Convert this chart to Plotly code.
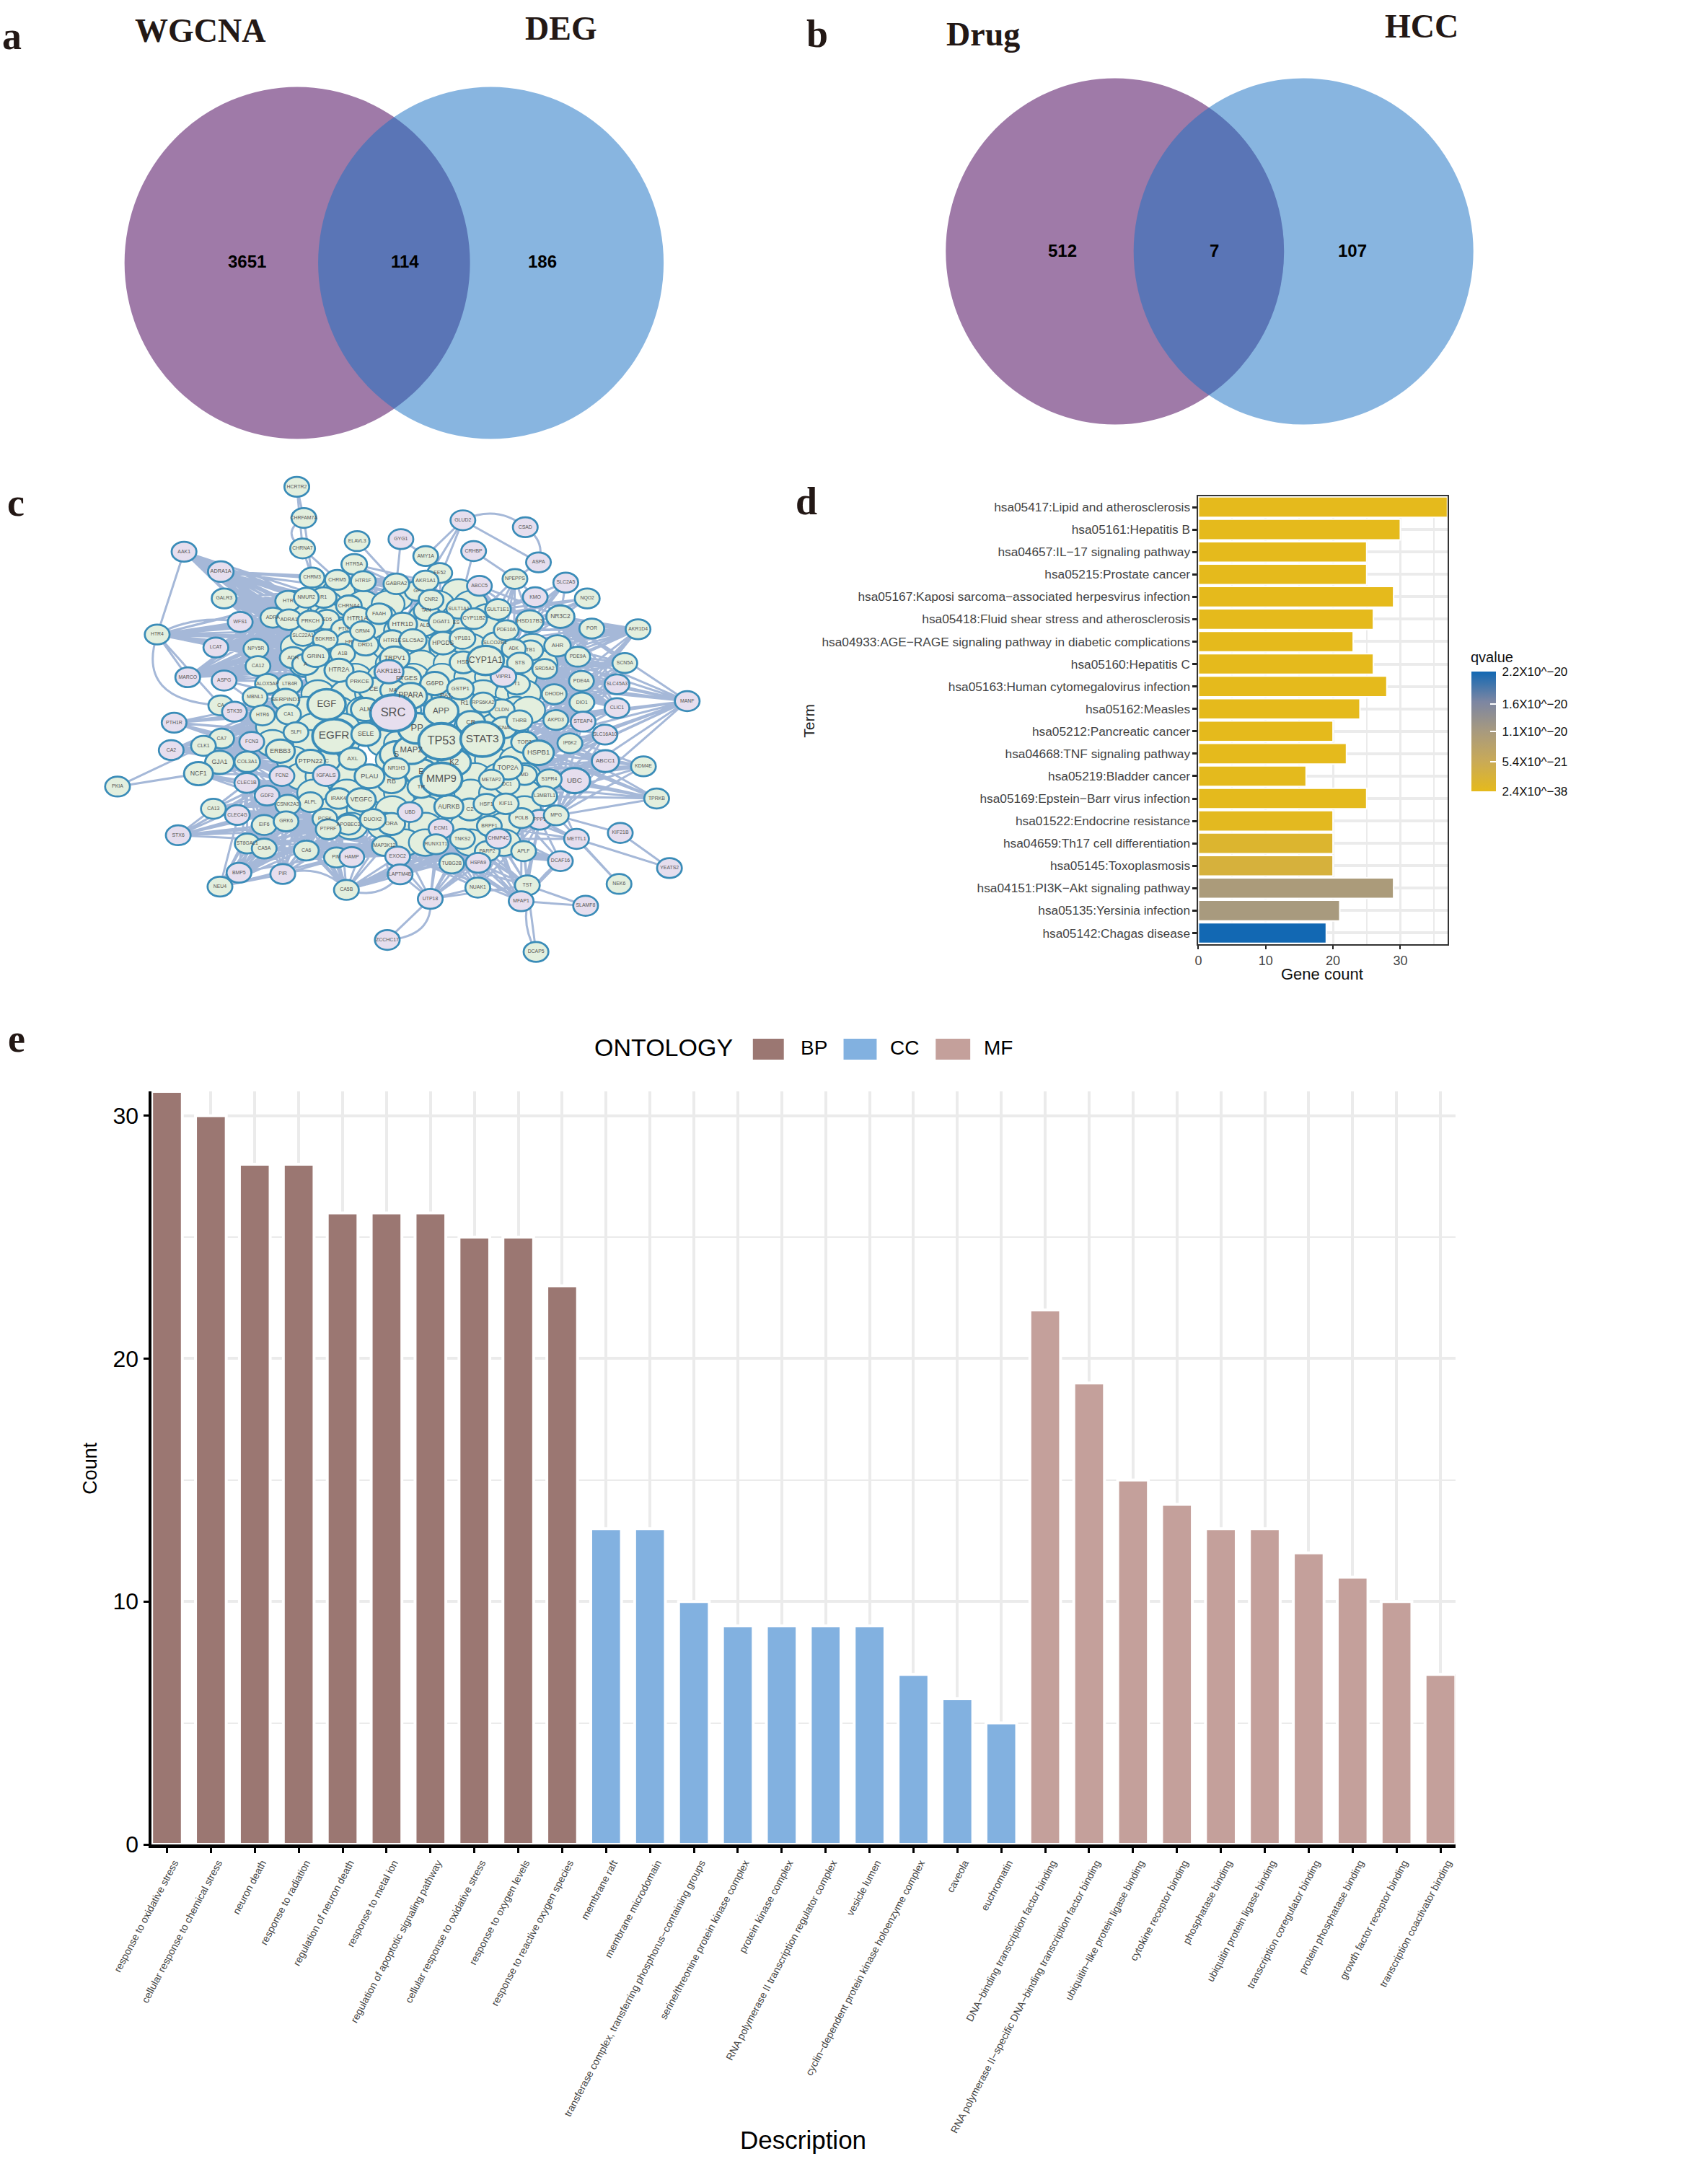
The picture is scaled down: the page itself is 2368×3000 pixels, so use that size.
import plotly.graph_objects as go

W = 2368
H = 3000

# venn panels
venn_a_sets = ["WGCNA", "DEG"]
venn_a_counts = [3651, 114, 186]
venn_b_sets = ["Drug", "HCC"]
venn_b_counts = [512, 7, 107]

# panel d, KEGG terms top to bottom
kegg_terms = [
    "hsa05417:Lipid and atherosclerosis", "hsa05161:Hepatitis B",
    "hsa04657:IL−17 signaling pathway", "hsa05215:Prostate cancer",
    "hsa05167:Kaposi sarcoma−associated herpesvirus infection",
    "hsa05418:Fluid shear stress and atherosclerosis",
    "hsa04933:AGE−RAGE signaling pathway in diabetic complications",
    "hsa05160:Hepatitis C", "hsa05163:Human cytomegalovirus infection",
    "hsa05162:Measles", "hsa05212:Pancreatic cancer",
    "hsa04668:TNF signaling pathway", "hsa05219:Bladder cancer",
    "hsa05169:Epstein−Barr virus infection", "hsa01522:Endocrine resistance",
    "hsa04659:Th17 cell differentiation", "hsa05145:Toxoplasmosis",
    "hsa04151:PI3K−Akt signaling pathway", "hsa05135:Yersinia infection",
    "hsa05142:Chagas disease",
]
kegg_counts = [37, 30, 25, 25, 29, 26, 23, 26, 28, 24, 20, 22, 16, 25, 20, 20, 20, 29, 21, 19]
kegg_qvalues = [2.4e-38, 1e-30, 1e-28, 1e-28, 1e-27, 1e-26, 1e-25, 1e-25, 1e-24, 1e-24,
                1e-23, 1e-23, 1e-22, 1e-22, 4e-22, 1.8e-21, 3e-21, 1.05e-20, 1.1e-20, 2.2e-20]
q_tick_values = [2.4e-38, 5.4e-21, 1.1e-20, 1.6e-20, 2.2e-20]
q_tick_labels = ["2.4X10^−38", "5.4X10^−21", "1.1X10^−20", "1.6X10^−20", "2.2X10^−20"]

# panel e, GO terms
bp_terms = ["response to oxidative stress", "cellular response to chemical stress", "neuron death",
            "response to radiation", "regulation of neuron death", "response to metal ion",
            "regulation of apoptotic signaling pathway", "cellular response to oxidative stress",
            "response to oxygen levels", "response to reactive oxygen species"]
bp_counts = [31, 30, 28, 28, 26, 26, 26, 25, 25, 23]
cc_terms = ["membrane raft", "membrane microdomain",
            "transferase complex, transferring phosphorus−containing groups",
            "serine/threonine protein kinase complex", "protein kinase complex",
            "RNA polymerase II transcription regulator complex", "vesicle lumen",
            "cyclin−dependent protein kinase holoenzyme complex", "caveola", "euchromatin"]
cc_counts = [13, 13, 10, 9, 9, 9, 9, 7, 6, 5]
mf_terms = ["DNA−binding transcription factor binding",
            "RNA polymerase II−specific DNA−binding transcription factor binding",
            "ubiquitin−like protein ligase binding", "cytokine receptor binding", "phosphatase binding",
            "ubiquitin protein ligase binding", "transcription coregulator binding",
            "protein phosphatase binding", "growth factor receptor binding",
            "transcription coactivator binding"]
mf_counts = [22, 19, 15, 14, 13, 13, 12, 11, 10, 7]

# panel c, network. units are those of the zoomed crop (0-1568 both ways)
filler_x = [600, 640, 780, 930, 530, 610, 700, 760, 880, 960, 620, 740, 850, 930, 1000, 640, 720, 790, 860, 1000,
            540, 620, 690, 760, 830, 900, 960, 1110, 560, 620, 700, 770, 840, 910, 980, 1050, 1130,
            600, 680, 750, 820, 890, 960, 1010, 1080, 590, 660, 720, 780, 860, 930, 990, 1060, 1090,
            560, 640, 700, 800, 950, 1010, 1070, 1100, 480, 580, 650, 760, 840, 960, 1020, 1060,
            480, 570, 650, 750, 790, 1010, 1060, 530, 620, 770, 840, 950, 1010, 1070,
            550, 600, 650, 780, 840, 970, 1030, 1090, 580, 660, 740, 790, 860, 960, 1020, 1090,
            630, 700, 770, 850, 1000, 1090, 670, 750, 800, 850, 950, 1040, 800, 850, 960, 1040]
filler_y = [395, 395, 410, 395, 430, 430, 430, 430, 430, 430, 470, 470, 470, 470, 470, 510, 510, 510, 510, 510,
            560, 560, 560, 560, 560, 560, 560, 560, 610, 610, 610, 610, 610, 610, 610, 610, 610,
            650, 650, 650, 650, 650, 650, 650, 650, 700, 700, 700, 700, 700, 700, 700, 700, 700,
            750, 750, 750, 750, 750, 750, 750, 750, 800, 800, 800, 800, 800, 800, 800, 800,
            850, 850, 850, 850, 850, 850, 850, 900, 900, 900, 900, 900, 900, 900,
            950, 950, 950, 950, 950, 950, 950, 950, 1000, 1000, 1000, 1000, 1000, 1000, 1000, 1000,
            1050, 1050, 1050, 1050, 1050, 1050, 1100, 1100, 1100, 1100, 1100, 1100, 1150, 1150, 1150, 1150]

node_names = [
    "HTR", "R1", "SD5", "PTG", "HR", "ADR", "A", "A1B",
    "ALD", "TAN", "ES", "GP", "HSD", "TB1", "CE", "PTGES",
    "PA1", "R1", "CLDN", "CR", "T1", "MA", "K2", "E",
    "S", "MAP2", "PP", "RB", "TR", "MD", "DC1", "C2",
    "ORA", "PCSK", "APOBEC3", "EE52", "CNA", "PIM", "PPP1", "C",
    "HCRTR2", "CHRFAM7A", "CHRNA7", "ELAVL3", "GYG1", "GLUD2", "CSAD", "CRHBP",
    "AMY1A", "ASPA", "AAK1", "ADRA1A", "GALR3", "HTR5A", "CHRM3", "CHRM5",
    "HTR1F", "GABRA2", "AKR1A1", "ABCC5", "NPEPPS", "SLC2A5", "KMO", "NQO2",
    "CHRNA4", "HTR1A", "FAAH", "SLC22A1", "BDKRB1", "HTR1D", "CNR2", "DRD1",
    "ADRA", "ADRA1", "NMUR2", "PRKCH", "GRM4", "SULT1A1", "SULT1E1", "NR3C2",
    "HSD17B3", "CYP11B2", "DGAT1", "WFS1", "HTR4", "HTR1E", "SLC5A2", "HPGDS",
    "YP1B1", "SLCO2B1", "PDE10A", "POR", "AKR1D4", "LCAT", "NPY5R", "ADK",
    "AHR", "CA12", "GRIN1", "TRPV1", "STS", "SRD5A2", "PDE9A", "SCN5A",
    "MARCO", "ASPG", "HTR2A", "ALOX5AP", "LTB4R", "PRKCE", "G6PD", "GSTP1",
    "VIPR1", "PDE4A", "SLC45A3", "MBNL1", "PPARA", "RPS6KA2", "SERPIND1", "DHODH",
    "DIO1", "MANF", "CLIC1", "CA", "STK39", "HTR6", "CA1", "ALK",
    "THRB", "AKPD3", "STEAP4", "PTH1R", "SLPI", "SLC16A10", "CA7", "FCN3",
    "IP6K2", "TOP2", "CLK1", "CA2", "ERBB3", "HSPB1", "ABCC1", "GJA1",
    "COL3A1", "PTPN22", "KDM4E", "NCF1", "NR1H3", "TOP2A", "IGFALS", "FCN2",
    "CLEC1B", "UBC", "METAP2", "S1PR4", "TPRKB", "PKIA", "GDF2", "L3MBTL1",
    "IRAK4", "ALPL", "CSNK2A3", "CA13", "CLEC4G", "POLB", "MPG", "KIF21B",
    "DUOX2", "UBD", "EIF6", "GRK6", "PTPRF", "ECM1", "BRPF1", "STX6",
    "METTL1", "TNKS2", "ST8GAL1", "CA5A", "CA6", "MAP3K12", "HAMP", "EXOC2",
    "PARP2", "APLF", "DCAF16", "TUBG2B", "HSPA9", "YEATS2", "BMP5", "PIR",
    "LAPTM4B", "NEK6", "NEU4", "CA5B", "NUAK1", "TST", "UTP18", "MFAP1",
    "SLAMF8", "ZCCHC17", "DCAP5", "RUNX1T1", "CHMP4C", "HSF1", "KIF11", "AURKB",
    "EGF", "EGFR", "APP", "CYP1A1", "SRC", "MMP9", "TP53", "STAT3",
    "SELE", "AXL", "PLAU", "VEGFC", "AKR1B1",
]
node_x = [
    518, 604, 612, 652, 665, 530, 560, 650,
    849, 852, 925, 830, 942, 1105, 725, 805,
    900, 945, 1035, 960, 1072, 772, 920, 840,
    780, 816, 830, 768, 840, 1090, 1048, 958,
    768, 607, 664, 885, 1040, 635, 1127, 612,
    539, 556, 553, 685, 791, 941, 1092, 967,
    851, 1124, 266, 355, 363, 678, 576, 637,
    700, 780, 851, 981, 1067, 1190, 1116, 1242,
    665, 686, 738, 554, 608, 795, 864, 705,
    481, 520, 562, 572, 698, 931, 1026, 1177,
    1103, 968, 889, 402, 201, 770, 820, 893,
    940, 1019, 1046, 1253, 1365, 343, 440, 1064,
    1170, 445, 585, 776, 1079, 1139, 1219, 1333,
    275, 363, 641, 468, 522, 691, 873, 935,
    1039, 1228, 1314, 438, 815, 990, 512, 1162,
    1229, 1484, 1314, 355, 388, 456, 519, 705,
    1078, 1166, 1232, 242, 537, 1285, 357, 430,
    1200, 1090, 313, 235, 499, 1124, 1286, 352,
    419, 572, 1378, 301, 780, 1050, 610, 503,
    418, 1211, 1010, 1150, 1410, 105, 467, 1139,
    640, 572, 517, 337, 395, 1083, 1167, 1322,
    723, 813, 460, 513, 615, 888, 1005, 252,
    1216, 940, 419, 460, 562, 751, 672, 783,
    1000, 1088, 1177, 914, 978, 1441, 399, 505,
    789, 1319, 353, 659, 977, 1097, 862, 1082,
    1238, 758, 1118, 876, 1027, 998, 1045, 907,
    611, 629, 888, 996, 772, 889, 889, 988,
    706, 674, 715, 695, 762,
]
node_y = [
    421, 410, 477, 506, 544, 592, 612, 580,
    495, 450, 486, 390, 606, 570, 688, 655,
    707, 730, 749, 788, 672, 690, 908, 938,
    884, 871, 805, 966, 982, 946, 975, 1050,
    1094, 1078, 1096, 336, 803, 1195, 1081, 903,
    76, 170, 262, 240, 234, 177, 198, 270,
    285, 304, 272, 332, 413, 310, 350, 357,
    361, 369, 360, 375, 354, 365, 409, 413,
    435, 474, 459, 526, 537, 491, 417, 553,
    471, 477, 411, 481, 512, 444, 446, 468,
    482, 474, 484, 484, 522, 541, 539, 548,
    534, 547, 509, 504, 506, 561, 565, 565,
    556, 617, 587, 594, 608, 626, 589, 608,
    651, 661, 630, 671, 672, 665, 670, 686,
    649, 662, 672, 711, 707, 727, 719, 702,
    727, 723, 744, 736, 755, 766, 763, 748,
    782, 780, 785, 788, 817, 824, 836, 846,
    850, 847, 858, 871, 874, 879, 904, 908,
    906, 905, 920, 942, 926, 925, 947, 949,
    970, 963, 960, 959, 1017, 981, 1008, 1010,
    1017, 1028, 1036, 1048, 1067, 1076, 1068, 1121,
    1080, 1058, 1097, 1086, 1110, 1108, 1100, 1128,
    1139, 1139, 1153, 1168, 1174, 1160, 1194, 1192,
    1176, 1176, 1206, 1213, 1211, 1227, 1241, 1245,
    1246, 1275, 1283, 1293, 1286, 1279, 1320, 1327,
    1341, 1444, 1480, 1155, 1138, 1034, 1033, 1042,
    733, 829, 753, 600, 759, 959, 845, 838,
    823, 897, 950, 1021, 634,
]
node_size = [
    62, 62, 60, 60, 62, 64, 64, 60,
    62, 60, 60, 60, 66, 60, 72, 70,
    70, 70, 62, 70, 62, 62, 80, 80,
    80, 84, 92, 70, 66, 60, 60, 66,
    66, 60, 60, 60, 64, 60, 60, 64,
    60, 60, 60, 60, 60, 60, 60, 60,
    60, 60, 60, 62, 60, 62, 60, 60,
    60, 62, 62, 60, 60, 60, 60, 60,
    62, 70, 62, 60, 60, 70, 60, 64,
    60, 62, 60, 62, 60, 60, 62, 68,
    66, 62, 62, 60, 60, 64, 66, 68,
    62, 62, 60, 60, 60, 60, 60, 58,
    64, 60, 66, 72, 62, 60, 60, 60,
    60, 60, 70, 60, 60, 64, 70, 64,
    62, 60, 60, 60, 78, 60, 66, 60,
    60, 60, 60, 60, 60, 60, 60, 70,
    62, 60, 60, 60, 60, 60, 60, 60,
    60, 64, 60, 60, 70, 74, 66, 70,
    62, 70, 60, 70, 62, 70, 64, 60,
    60, 76, 60, 60, 60, 60, 60, 60,
    62, 60, 60, 60, 60, 60, 60, 60,
    62, 60, 60, 60, 60, 60, 60, 60,
    60, 60, 60, 60, 60, 60, 60, 60,
    60, 60, 60, 60, 60, 60, 60, 60,
    60, 60, 60, 60, 60, 60, 60, 60,
    60, 60, 60, 60, 60, 62, 62, 70,
    92, 104, 84, 88, 110, 100, 110, 105,
    70, 66, 72, 70, 70,
]
purple_nodes = ["GYG1", "GLUD2", "CSAD", "CRHBP", "ASPA", "AAK1", "ADRA1A", "ABCC5", "SLC2A5", "KMO", "WFS1",
                "LCAT", "MARCO", "ASPG", "AKR1B1", "VIPR1", "SLC45A3", "MANF", "CLIC1", "STK39", "STEAP4",
                "PTH1R", "SLC16A10", "FCN3", "CA2", "ABCC1", "IGFALS", "FCN2", "CLEC1B", "UBC", "GDF2",
                "CLEC4G", "KIF21B", "UBD", "ECM1", "STX6", "METTL1", "HAMP", "EXOC2", "DCAF16", "HSPA9",
                "YEATS2", "BMP5", "PIR", "LAPTM4B", "UTP18", "MFAP1", "SLAMF8", "ZCCHC17", "CHMP4C",
                "PPP1", "SRC"]

# bundles of edges, every node on the left joined to every node on the right
edge_fans = [
    (["AAK1", "ADRA1A", "GALR3", "WFS1", "LCAT", "NPY5R", "CA12", "ASPG", "MARCO", "HTR4"],
     ["HTR", "NMUR2", "ADRA", "ADRA1", "SLC22A1", "BDKRB1", "GRIN1", "ADR", "HTR2A", "PRKCH", "CHRNA4",
      "SD5", "PTG", "HR", "A", "A1B", "HTR1A"]),
    (["ADRA1A", "GALR3", "CHRM3", "CHRM5", "HTR5A", "HTR1F"],
     ["HTR1A", "GABRA2", "CHRNA4", "FAAH", "HTR1D", "CNR2", "AKR1A1", "NMUR2", "R1"]),
    (["PTH1R", "CA2", "CLK1", "GJA1", "NCF1", "COL3A1", "CA7", "FCN3", "STK39", "HTR6", "CA"],
     ["ERBB3", "EGFR", "PTPN22", "SLPI", "CA1", "HTR6", "EGF", "SERPIND1", "C", "IGFALS"]),
    (["ALOX5AP", "LTB4R", "MBNL1", "SERPIND1", "NPY5R", "CA12", "ASPG"],
     ["EGF", "HTR2A", "GRIN1", "PRKCE", "ADR", "A", "SLPI"]),
    (["STX6", "CA13", "CLEC4G", "ST8GAL1", "BMP5", "PIR", "NEU4", "CA5A", "CA6", "CA5B", "EIF6", "GRK6"],
     ["ALPL", "IRAK4", "PTPRF", "CSNK2A3", "FCN2", "GDF2", "CLEC1B", "PTPN22", "MAP3K12", "DUOX2", "PCSK"]),
    (["CLEC1B", "GDF2", "FCN2", "COL3A1", "GJA1", "NCF1"],
     ["IRAK4", "VEGFC", "PLAU", "ALPL", "CSNK2A3", "IGFALS"]),
    (["UTP18", "NUAK1", "TST", "MFAP1", "DCAF16", "APLF", "LAPTM4B", "HSPA9", "TUBG2B", "CA5B", "HAMP", "EXOC2"],
     ["TNKS2", "PARP2", "RUNX1T1", "BRPF1", "POLB", "CHMP4C", "ECM1", "MAP3K12", "ORA", "PPP1"]),
    (["MANF", "AKR1D4", "SCN5A", "SLC45A3", "CLIC1", "STEAP4", "DIO1", "PDE4A", "PDE9A", "POR", "DHODH"],
     ["CYP1A1", "STS", "SRD5A2", "AHR", "THRB", "TOP2", "HSPB1", "NR3C2", "VIPR1", "T1", "AKPD3", "TB1"]),
    (["ABCC1", "SLC16A10", "IP6K2", "KDM4E", "TPRKB", "UBC", "S1PR4", "MANF", "STEAP4"],
     ["HSPB1", "TOP2A", "THRB", "L3MBTL1", "MPG", "MD", "DC1", "TOP2"]),
    (["SLC2A5", "KMO", "NQO2", "NPEPPS", "ABCC5", "AKR1D4", "POR"],
     ["SULT1E1", "HSD17B3", "PDE10A", "NR3C2", "CYP11B2", "SLCO2B1", "ADK"]),
    (["MAP3K12", "DUOX2", "HAMP", "EXOC2", "PIM", "CA6"],
     ["CA5A", "PTPRF", "RUNX1T1", "AURKB", "ORA", "PCSK"]),
    (["GABRA2", "AKR1A1", "ABCC5", "CNR2", "EE52"],
     ["SULT1A1", "HTR1D", "FAAH", "DGAT1", "CYP11B2", "TAN"]),
    (["POLB", "MPG", "L3MBTL1", "PPP1", "METTL1"],
     ["KIF11", "HSF1", "BRPF1", "TNKS2", "S1PR4"]),
]
straight_edges = [
    ("PKIA", "NCF1"), ("PKIA", "CLK1"), ("ZCCHC17", "UTP18"), ("DCAP5", "TST"), ("YEATS2", "KIF21B"),
    ("YEATS2", "METTL1"), ("NEK6", "METTL1"), ("NEK6", "MPG"), ("SLAMF8", "MFAP1"), ("SLAMF8", "TST"),
    ("GLUD2", "ASPA"), ("GLUD2", "AMY1A"), ("GLUD2", "CNR2"), ("GLUD2", "AKR1A1"), ("GYG1", "AMY1A"),
    ("GYG1", "GABRA2"), ("ELAVL3", "GABRA2"), ("CRHBP", "SULT1A1"), ("CRHBP", "NPEPPS"), ("ASPA", "NPEPPS"),
    ("HCRTR2", "CHRFAM7A"), ("HCRTR2", "CHRNA7"), ("CHRFAM7A", "CHRM3"), ("CHRNA7", "CHRM5"), ("CHRNA7", "CHRM3"),
    ("HTR4", "WFS1"), ("HTR4", "AAK1"), ("HTR4", "MARCO"), ("HTR4", "CA"), ("NEU4", "BMP5"), ("NEU4", "PIR"),
    ("KIF21B", "MPG"), ("METTL1", "PPP1"), ("DCAF16", "MFAP1"), ("KDM4E", "ABCC1"), ("TPRKB", "UBC"),
    ("UTP18", "LAPTM4B"), ("UTP18", "TUBG2B"), ("UTP18", "NUAK1"), ("UTP18", "TST"), ("TST", "APLF"),
]
curved_edges = [
    ("GLUD2", "CSAD", -30), ("CSAD", "ASPA", -18), ("ZCCHC17", "UTP18", 40), ("DCAP5", "DCAF16", -50),
    ("HTR4", "WFS1", -22), ("ADRA1A", "HTR", -30), ("CA5B", "PIR", 30), ("CA5B", "LAPTM4B", 30),
    ("CHRFAM7A", "CHRNA7", 28), ("HTR4", "CA", 80), ("LAPTM4B", "EXOC2", -28), ("AKR1D4", "NR3C2", -24),
]

fig = go.Figure()


def px_x(x):
    return x / W


def px_y(y):
    return 1 - y / H


def note(text, x, y, size, family="Liberation Sans", color="#000000", angle=0, anchor="center"):
    fig.add_annotation(text=text, x=px_x(x), y=px_y(y), xref="paper", yref="paper", showarrow=False,
                       textangle=angle, xanchor=anchor, yanchor="middle",
                       font=dict(family=family, size=size, color=color))


def ellipse(cx, cy, rx, ry, fill, opacity=1):
    fig.add_shape(type="circle", xref="paper", yref="paper", x0=px_x(cx - rx), x1=px_x(cx + rx),
                  y0=px_y(cy + ry), y1=px_y(cy - ry), fillcolor=fill, opacity=opacity,
                  line=dict(width=0), layer="below")


SERIF = "Liberation Serif"
VENN_LEFT = "#9F7AA8"
VENN_RIGHT = "rgb(26,113,195)"

# a and b
ellipse(408, 364.5, 240, 244, VENN_LEFT)
ellipse(677, 364.5, 240, 244, VENN_RIGHT, 0.52)
ellipse(1544, 348.5, 235, 240, VENN_LEFT)
ellipse(1806, 348.5, 236, 240, VENN_RIGHT, 0.52)
for count, x in zip(venn_a_counts, [338, 558, 749]):
    note("<b>%d</b>" % count, x, 362, 24)
for count, x in zip(venn_b_counts, [1471, 1682, 1874]):
    note("<b>%d</b>" % count, x, 347, 24)
note("<b>%s</b>" % venn_a_sets[0], 273, 43, 46, SERIF, "#231815")
note("<b>%s</b>" % venn_a_sets[1], 775, 39, 46, SERIF, "#231815")
note("<b>%s</b>" % venn_b_sets[0], 1361, 47, 46, SERIF, "#231815")
note("<b>%s</b>" % venn_b_sets[1], 1970, 36, 46, SERIF, "#231815")
note("<b>a</b>", 12, 50, 54, SERIF, "#231815")
note("<b>b</b>", 1130, 47, 54, SERIF, "#231815")
note("<b>c</b>", 17, 697, 54, SERIF, "#231815")
note("<b>d</b>", 1115, 695, 54, SERIF, "#231815")
note("<b>e</b>", 18, 1440, 54, SERIF, "#231815")

# c, network
lookup = {}
for name, x, y in zip(node_names, node_x, node_y):
    lookup[name] = (x, y)
parts = []
seen = set()
for left, right in edge_fans:
    for a in left:
        for b in right:
            if a != b and (a, b) not in seen:
                seen.add((a, b))
                parts.append("M%d,%dL%d,%d" % (*lookup[a], *lookup[b]))
for a, b in straight_edges:
    parts.append("M%d,%dL%d,%d" % (*lookup[a], *lookup[b]))
for a, b, bend in curved_edges:
    x0, y0 = lookup[a]
    x1, y1 = lookup[b]
    length = ((x1 - x0) ** 2 + (y1 - y0) ** 2) ** 0.5
    mx = (x0 + x1) / 2 - (y1 - y0) / length * bend * 2
    my = (y0 + y1) / 2 + (x1 - x0) / length * bend * 2
    parts.append("M%d,%dQ%d,%d %d,%d" % (x0, y0, mx, my, x1, y1))
fig.add_shape(type="path", xref="x3", yref="y3", path=" ".join(parts), layer="below",
              line=dict(color="#A5B8D8", width=3))

NODE_GREEN = "#E3EFDE"
NODE_PURPLE = "#E6DEEE"
NODE_LINE = "#3A8CB8"
for x, y in zip(filler_x, filler_y):
    fig.add_shape(type="circle", xref="x3", yref="y3", x0=x - 40, x1=x + 40, y0=y - 40, y1=y + 40,
                  fillcolor=NODE_GREEN, line=dict(color=NODE_LINE, width=2.4), layer="below")
for name, x, y, d in zip(node_names, node_x, node_y, node_size):
    fig.add_shape(type="circle", xref="x3", yref="y3", x0=x - d / 2, x1=x + d / 2, y0=y - d / 2, y1=y + d / 2,
                  fillcolor=NODE_PURPLE if name in purple_nodes else NODE_GREEN,
                  line=dict(color=NODE_LINE, width=1.4 + d / 45), layer="below")
fig.add_trace(go.Scatter(
    x=node_x, y=node_y, text=node_names, mode="text", xaxis="x3", yaxis="y3", showlegend=False,
    textposition="middle center", hoverinfo="text",
    textfont=dict(family="Liberation Sans", color="#555555", size=[d * 0.19 - 4.5 for d in node_size]),
))

# d, KEGG bars
fig.add_trace(go.Bar(
    x=kegg_counts, y=kegg_terms, orientation="h", xaxis="x", yaxis="y", showlegend=False, width=0.92,
    marker=dict(
        color=kegg_qvalues, cmin=2.4e-38, cmax=2.2e-20,
        colorscale=[[0, "#E5BA1C"], [0.25, "#C9AA57"], [0.5, "#A89A7E"], [0.75, "#7C86A2"], [1, "#1268B3"]],
        line=dict(color="#FFFFFF", width=2),
        colorbar=dict(
            x=2039 / W, xanchor="left", xpad=0, y=px_y(1014), yanchor="middle", ypad=0,
            lenmode="pixels", len=166, thicknessmode="pixels", thickness=34, outlinewidth=0,
            tickvals=q_tick_values, ticktext=["\u00a0" + t for t in q_tick_labels], ticks="inside", ticklen=8,
            tickcolor="#FFFFFF", tickwidth=2, tickfont=dict(family="Liberation Sans", size=17, color="#111111"),
        ),
    ),
))

# e, GO bars
go_groups = [("BP", bp_terms, bp_counts, "#9B7772"), ("CC", cc_terms, cc_counts, "#82B1E0"),
             ("MF", mf_terms, mf_counts, "#C4A09B")]
for label, terms, counts, colour in go_groups:
    fig.add_trace(go.Bar(x=terms, y=counts, name=label, xaxis="x2", yaxis="y2", showlegend=False, width=0.7,
                         marker=dict(color=colour, line=dict(color="#FFFFFF", width=4))))

swatches = [("BP", 1041, 1084, 1105, "#9B7772"), ("CC", 1167, 1213, 1230, "#82B1E0"),
            ("MF", 1295, 1343, 1360, "#C4A09B")]
note("ONTOLOGY", 917, 1452, 34)
for label, x0, x1, tx, colour in swatches:
    fig.add_shape(type="rect", xref="paper", yref="paper", x0=px_x(x0), x1=px_x(x1), y0=px_y(1469), y1=px_y(1440),
                  fillcolor=colour, line=dict(width=0))
    note(label, tx, 1453, 28, anchor="left")

note("qvalue", 2036, 911, 20, color="#111111", anchor="left")
note("Term", 1119, 999, 21, color="#222222", angle=-90)
note("Gene count", 1832, 1351, 22, color="#111111")
note("Count", 120, 2035, 27, angle=-90)
note("Description", 1111, 2966, 35)

GRID = "#EBEBEB"
fig.update_layout(
    width=W, height=H, autosize=False, margin=dict(l=0, r=0, t=0, b=0),
    paper_bgcolor="#FFFFFF", plot_bgcolor="#FFFFFF", barmode="overlay", showlegend=False,
    font=dict(family="Liberation Sans"),
    xaxis=dict(
        domain=[1660 / W, 2006 / W], anchor="y", range=[0, 37], tickvals=[0, 10, 20, 30],
        showgrid=True, gridcolor=GRID, gridwidth=3, zeroline=False,
        minor=dict(tick0=0, dtick=5, showgrid=True, gridcolor=GRID, gridwidth=1.5),
        showline=True, mirror=True, linecolor="#333333", linewidth=2,
        ticks="outside", ticklen=5, tickwidth=2, tickcolor="#222222",
        tickfont=dict(size=18, color="#444444"),
    ),
    yaxis=dict(
        domain=[px_y(1309), px_y(687.5)], anchor="x", type="category", categoryorder="array",
        categoryarray=kegg_terms, range=[19.5, -0.5], showgrid=True, gridcolor=GRID, gridwidth=4,
        showline=True, mirror=True, linecolor="#333333", linewidth=2,
        ticks="outside", ticklen=6, tickwidth=3, tickcolor="#222222",
        tickfont=dict(size=17.3, color="#444444"),
    ),
    xaxis2=dict(
        domain=[205 / W, 2017 / W], anchor="y2", type="category", categoryorder="array",
        categoryarray=bp_terms + cc_terms + mf_terms, range=[-0.36, 29.34],
        showgrid=True, gridcolor=GRID, gridwidth=4, showline=True, linecolor="#000000", linewidth=5,
        ticks="outside", ticklen=7, tickwidth=3, tickcolor="#000000", tickangle=-62,
        tickfont=dict(size=14, color="#444444"), automargin=False, ticklabelshift=10,
    ),
    yaxis2=dict(
        domain=[px_y(2557), px_y(1513)], anchor="x2", range=[0, 31], tickvals=[0, 10, 20, 30],
        showgrid=True, gridcolor=GRID, gridwidth=4, zeroline=False,
        minor=dict(tick0=0, dtick=5, showgrid=True, gridcolor=GRID, gridwidth=2),
        showline=True, linecolor="#000000", linewidth=4,
        ticks="outside", ticklen=7, tickwidth=3, tickcolor="#000000",
        tickfont=dict(size=32, color="#000000"), automargin=False,
    ),
    xaxis3=dict(domain=[98 / W, 998 / W], anchor="y3", range=[0, 1568], visible=False),
    yaxis3=dict(domain=[px_y(1360), px_y(640)], anchor="x3", range=[1568, 0], visible=False),
)

fig.write_html("out.html", config={"displayModeBar": False}, post_script="document.body.style.margin='0';")
